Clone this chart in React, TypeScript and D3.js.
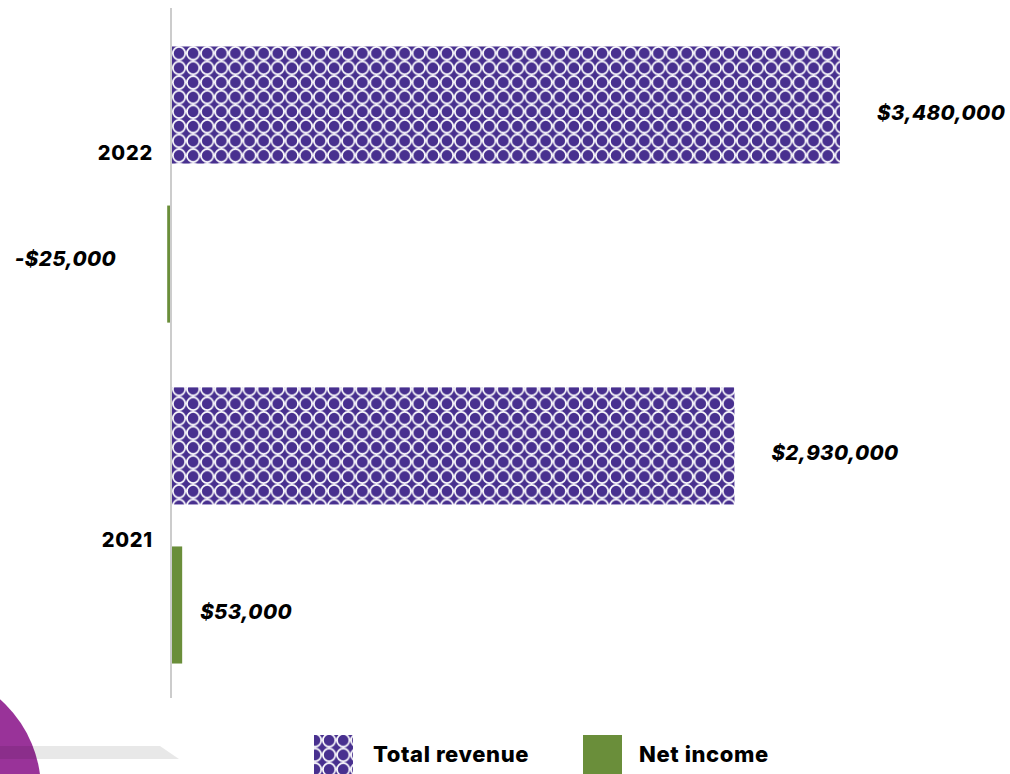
import React from "react";
import * as d3 from "d3";

const categories = ["2022", "2021"];
const seriesNames = ["Total revenue", "Net income"];
const totalRevenue = [3480000, 2930000];
const netIncome = [-25000, 53000];
const labelNudge = [-32, 15];

const W = 1010;
const H = 774;
const PURPLE = "#48308f";
const GREEN = "#6a8e3a";
const FONT = "Inter, Roboto, 'DejaVu Sans', sans-serif";

const fmt = (v: number) => (v < 0 ? "-$" : "$") + d3.format(",")(Math.abs(v));

const PW = 14.1;
const PH = 14.6;

export default function App() {
  const x = d3.scaleLinear().domain([0, 3480000]).range([172, 840]);
  const y0 = d3.scaleBand<string>().domain(categories).range([10, 700]).paddingInner(0.19).paddingOuter(0.107);
  const y1 = d3.scaleBand<string>().domain(seriesNames).range([0, y0.bandwidth()]).paddingInner(0.264).paddingOuter(0);
  const series = [
    { name: seriesNames[0], values: totalRevenue, fill: "url(#circles)", offset: 37 },
    { name: seriesNames[1], values: netIncome, fill: GREEN, offset: 18 },
  ];
  const patternBody = (
    <>
      <rect width={PW} height={PH} fill={PURPLE} />
      <ellipse cx={PW / 2} cy={PH / 2} rx={6.2} ry={6.4} fill="none" stroke="#ffffff" strokeWidth={1.7} />
    </>
  );
  return (
    <div style={{ position: "absolute", left: 0, top: 0 }}>
      <svg width={W} height={H} style={{ display: "block", fontFamily: FONT }}>
        <defs>
          <pattern id="circles" patternUnits="userSpaceOnUse" width={PW} height={PH} x={172} y={46}>
            {patternBody}
          </pattern>
          <pattern id="circlesLegend" patternUnits="userSpaceOnUse" width={PW} height={PH} x={308} y={733}>
            {patternBody}
          </pattern>
        </defs>
        <rect width={W} height={H} fill="#ffffff" />
        {/* decoration */}
        <circle cx={-80} cy={790} r={121} fill="#993399" />
        <path d="M0,746 L160,746 L179,759 L0,759 Z" fill="#000000" fillOpacity={0.09} />

        {categories.map((c, i) => {
          const gy = y0(c)!;
          return (
            <g key={c}>
              {series.map((s) => {
                const v = s.values[i];
                const by = gy + y1(s.name)!;
                const bh = y1.bandwidth();
                const xa = x(Math.min(0, v));
                const xb = x(Math.max(0, v));
                const lx = v >= 0 ? xb + s.offset : xa - 51;
                return (
                  <g key={s.name}>
                    <rect x={xa} y={by} width={Math.max(1, xb - xa)} height={bh} fill={s.fill} />
                    <text
                      x={lx}
                      y={by + bh / 2 + (v >= 0 ? 7 : -6)}
                      textAnchor={v >= 0 ? "start" : "end"}
                      dominantBaseline="central"
                      fontSize={20.5}
                      fontWeight={800}
                      fontStyle="italic"
                      letterSpacing={0.4}
                      fill="#000"
                    >
                      {fmt(v)}
                    </text>
                  </g>
                );
              })}
              <text
                x={153}
                y={gy + y0.bandwidth() / 2 + labelNudge[i]}
                textAnchor="end"
                dominantBaseline="central"
                fontSize={20}
                fontWeight={800}
                letterSpacing={0.8}
                fill="#000"
              >
                {c}
              </text>
            </g>
          );
        })}

        <line x1={171} x2={171} y1={8} y2={698} stroke="#cccccc" strokeWidth={2} />

        {/* legend */}
        <rect x={314} y={735} width={39} height={39} fill="url(#circlesLegend)" />
        <text x={373} y={754} dominantBaseline="central" fontSize={22} fontWeight={800} letterSpacing={0.6} fill="#000">
          {seriesNames[0]}
        </text>
        <rect x={583} y={735} width={39} height={39} fill={GREEN} />
        <text x={639} y={754} dominantBaseline="central" fontSize={22} fontWeight={800} letterSpacing={0.6} fill="#000">
          {seriesNames[1]}
        </text>
      </svg>
    </div>
  );
}
